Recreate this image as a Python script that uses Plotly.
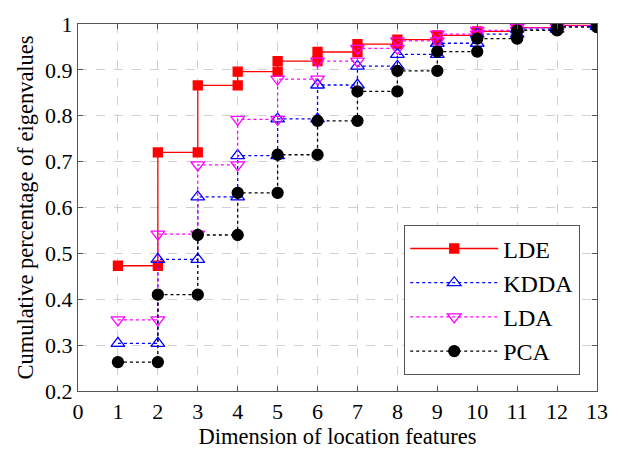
import plotly.graph_objects as go

dims = list(range(1, 14))
lde = [0.473, 0.720, 0.866, 0.896, 0.919, 0.939, 0.956, 0.966, 0.975, 0.984, 0.992, 0.997, 1.0]
kdda = [0.304, 0.487, 0.623, 0.713, 0.793, 0.867, 0.908, 0.934, 0.958, 0.978, 0.989, 0.995, 1.0]
lda = [0.355, 0.542, 0.693, 0.792, 0.880, 0.919, 0.947, 0.963, 0.978, 0.986, 0.992, 0.996, 1.0]
pca = [0.263, 0.410, 0.540, 0.632, 0.715, 0.789, 0.853, 0.898, 0.940, 0.968, 0.986, 0.993, 1.0]
x_ticks = list(range(0, 14))
y_ticks = [0.2, 0.3, 0.4, 0.5, 0.6, 0.7, 0.8, 0.9, 1.0]
y_labels = ["0.2", "0.3", "0.4", "0.5", "0.6", "0.7", "0.8", "0.9", "1"]


def stairs(xs, ys):
    sx, sy = [xs[0]], [ys[0]]
    for i in range(1, len(xs)):
        sx += [xs[i], xs[i]]
        sy += [ys[i - 1], ys[i]]
    return sx, sy


series = [
    ("LDE", lde, "#ff0000", "solid", "square", 9, "#ff0000"),
    ("KDDA", kdda, "#0000ff", "dot", "triangle-up-open", 12, "#0000ff"),
    ("LDA", lda, "#ff00ff", "dot", "triangle-down-open", 12, "#ff00ff"),
    ("PCA", pca, "#000000", "dot", "circle", 11, "#000000"),
]

fig = go.Figure()
for name, vals, col, dash, sym, sz, mcol in series:
    sx, sy = stairs(dims, vals)
    fig.add_trace(go.Scatter(
        x=sx, y=sy, name=name, mode="lines+markers", legendgroup=name,
        line=dict(color=col, width=1.3, dash=dash),
        marker=dict(symbol=sym, size=sz, color=mcol, line=dict(color=mcol, width=1.3)),
    ))

font_family = "Liberation Serif, Times New Roman, serif"
fig.update_layout(
    width=620, height=459,
    margin=dict(l=78, r=13, t=13, b=68),
    paper_bgcolor="white", plot_bgcolor="white",
    font=dict(family=font_family, size=22, color="black"),
    showlegend=True,
    legend=dict(
        x=0.628, y=0.452, xanchor="left", yanchor="top",
        bgcolor="white", bordercolor="#555555", borderwidth=1.3,
        font=dict(size=24, family=font_family),
        itemwidth=88, tracegroupgap=0,
    ),
    xaxis=dict(
        range=[0, 13], tickmode="array", tickvals=x_ticks,
        showline=True, linecolor="#555555", linewidth=1.3, mirror="ticks",
        ticks="inside", ticklen=5, tickcolor="#555555",
        showgrid=True, gridcolor="#d0d0d0", griddash="dash", gridwidth=1,
        zeroline=False,
        title=dict(text="Dimension of location features", font=dict(size=22.5), standoff=4),
        tickfont=dict(size=22),
    ),
    yaxis=dict(
        range=[0.2, 1.0], tickmode="array", tickvals=y_ticks, ticktext=y_labels,
        showline=True, linecolor="#555555", linewidth=1.3, mirror="ticks",
        ticks="inside", ticklen=5, tickcolor="#555555",
        showgrid=True, gridcolor="#d0d0d0", griddash="dash", gridwidth=1,
        zeroline=False,
        title=dict(text="Cumulative percentage of eigenvalues", font=dict(size=22.5), standoff=5),
        tickfont=dict(size=22),
    ),
)

fig.write_html("out.html")
